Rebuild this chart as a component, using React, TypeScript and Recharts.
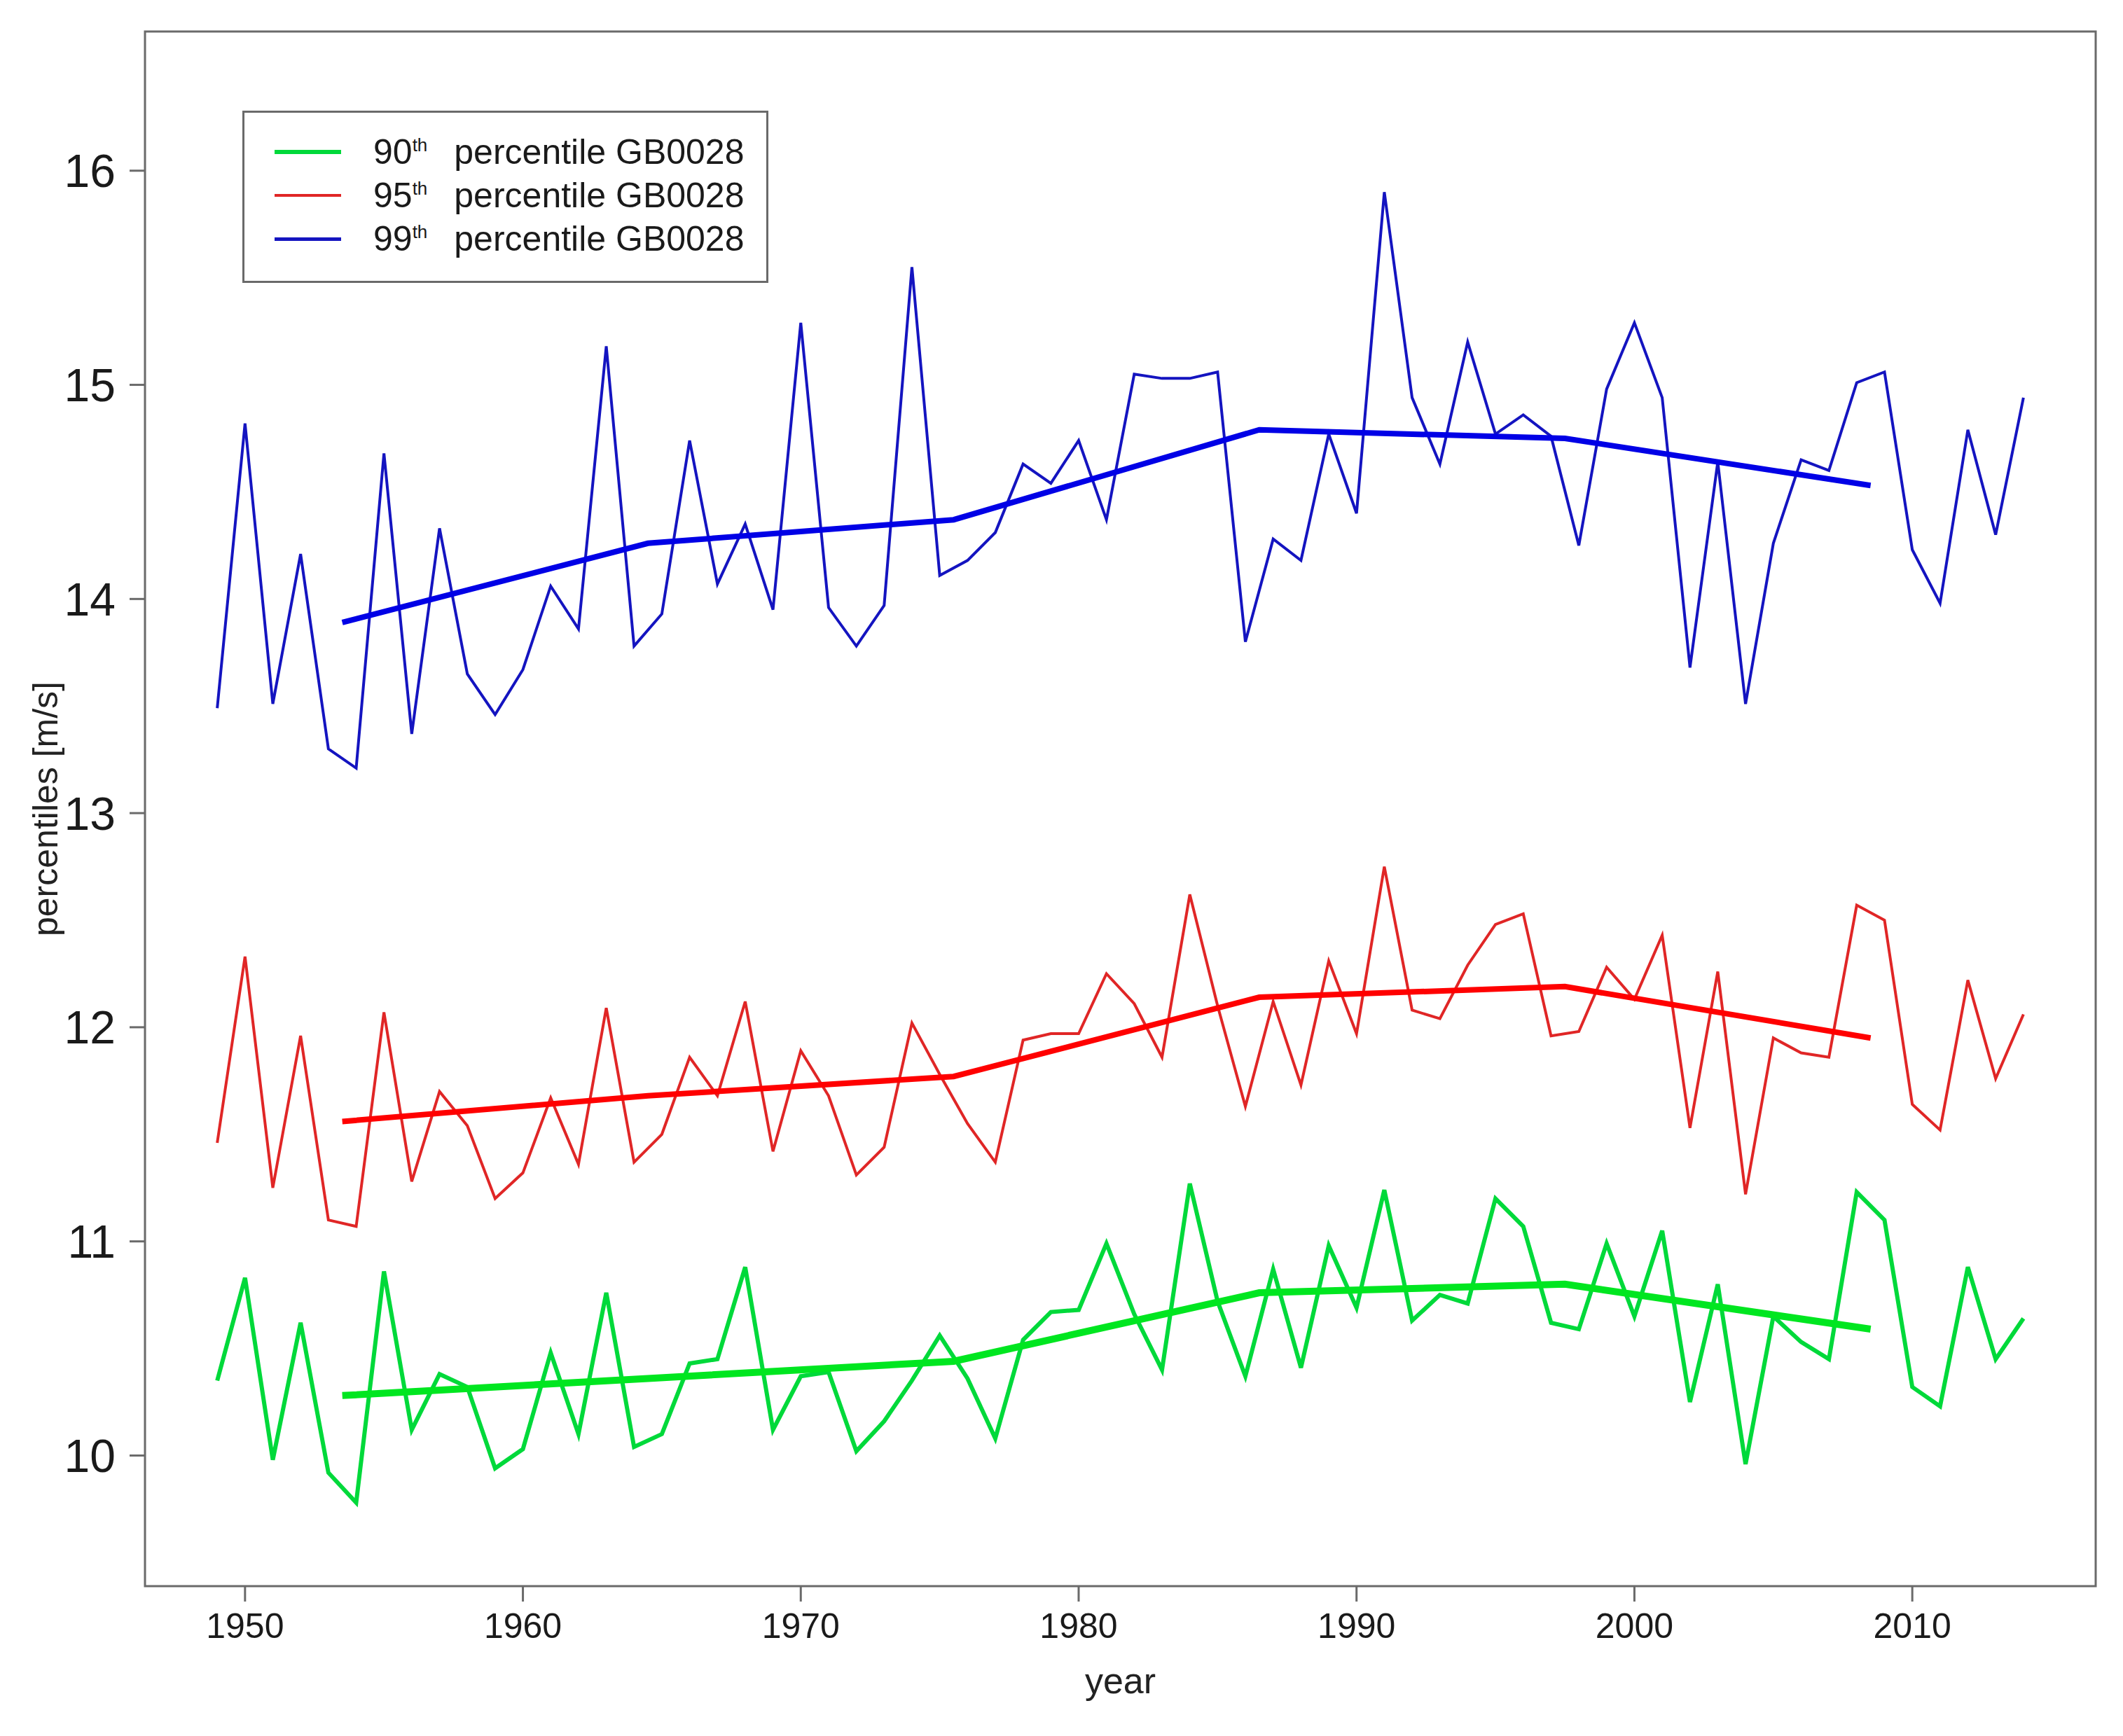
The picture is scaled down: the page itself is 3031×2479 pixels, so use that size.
import React from 'react'
import { LineChart, Line, XAxis, YAxis, ReferenceArea, Legend } from 'recharts'

const FONT = '"Liberation Sans", Arial, Helvetica, sans-serif'

const years = [
  1949, 1950, 1951, 1952, 1953, 1954, 1955, 1956, 1957, 1958, 1959,
  1960, 1961, 1962, 1963, 1964, 1965, 1966, 1967, 1968, 1969,
  1970, 1971, 1972, 1973, 1974, 1975, 1976, 1977, 1978, 1979,
  1980, 1981, 1982, 1983, 1984, 1985, 1986, 1987, 1988, 1989,
  1990, 1991, 1992, 1993, 1994, 1995, 1996, 1997, 1998, 1999,
  2000, 2001, 2002, 2003, 2004, 2005, 2006, 2007, 2008, 2009,
  2010, 2011, 2012, 2013, 2014,
]

// 90th percentile GB0028
const p90 = [
  10.35, 10.83, 9.98, 10.62, 9.92, 9.78, 10.86, 10.12, 10.38, 10.32, 9.94,
  10.03, 10.48, 10.10, 10.76, 10.04, 10.10, 10.43, 10.45, 10.88, 10.12,
  10.37, 10.39, 10.02, 10.16, 10.35, 10.56, 10.36, 10.08, 10.54, 10.67,
  10.68, 10.99, 10.66, 10.40, 11.27, 10.72, 10.37, 10.87, 10.41, 10.98,
  10.69, 11.24, 10.63, 10.75, 10.71, 11.20, 11.07, 10.62, 10.59, 10.99,
  10.65, 11.05, 10.25, 10.80, 9.96, 10.65, 10.53, 10.45, 11.23, 11.10,
  10.32, 10.23, 10.88, 10.45, 10.64,
]

// 95th percentile GB0028
const p95 = [
  11.46, 12.33, 11.25, 11.96, 11.10, 11.07, 12.07, 11.28, 11.70, 11.54, 11.20,
  11.32, 11.67, 11.36, 12.09, 11.37, 11.50, 11.86, 11.68, 12.12, 11.42,
  11.89, 11.68, 11.31, 11.44, 12.02, 11.78, 11.55, 11.37, 11.94, 11.97,
  11.97, 12.25, 12.11, 11.86, 12.62, 12.10, 11.63, 12.12, 11.73, 12.31,
  11.97, 12.75, 12.08, 12.04, 12.29, 12.48, 12.53, 11.96, 11.98, 12.28,
  12.13, 12.43, 11.53, 12.26, 11.22, 11.95, 11.88, 11.86, 12.57, 12.50,
  11.64, 11.52, 12.22, 11.76, 12.06,
]

// 99th percentile GB0028
const p99 = [
  13.49, 14.82, 13.51, 14.21, 13.30, 13.21, 14.68, 13.37, 14.33, 13.65, 13.46,
  13.67, 14.06, 13.86, 15.18, 13.78, 13.93, 14.74, 14.07, 14.35, 13.95,
  15.29, 13.96, 13.78, 13.97, 15.55, 14.11, 14.18, 14.31, 14.63, 14.54,
  14.74, 14.37, 15.05, 15.03, 15.03, 15.06, 13.80, 14.28, 14.18, 14.77,
  14.40, 15.90, 14.94, 14.63, 15.20, 14.77, 14.86, 14.76, 14.25, 14.98,
  15.29, 14.94, 13.68, 14.64, 13.51, 14.26, 14.65, 14.60, 15.01, 15.06,
  14.23, 13.98, 14.79, 14.30, 14.94,
]

// smoothed trend (11-year centres)
const trendYears = [1953.5, 1964.5, 1975.5, 1986.5, 1997.5, 2008.5]
const trend90 = [10.28, 10.36, 10.44, 10.76, 10.80, 10.59]
const trend95 = [11.56, 11.68, 11.77, 12.14, 12.19, 11.95]
const trend99 = [13.89, 14.26, 14.37, 14.79, 14.75, 14.53]

const xTicks = [1950, 1960, 1970, 1980, 1990, 2000, 2010]
const yTicks = [10, 11, 12, 13, 14, 15, 16]
const xDomain = [1946.4, 2016.6]
const yDomain = [9.39, 16.65]

const legendItems = [
  { pct: '90', color: '#00d93a', width: 6 },
  { pct: '95', color: '#e02626', width: 4 },
  { pct: '99', color: '#1414c0', width: 5 },
]

const rows = [
  ...years.map((year, i) => ({ year, p90: p90[i], p95: p95[i], p99: p99[i] })),
  ...trendYears.map((year, i) => ({ year, t90: trend90[i], t95: trend95[i], t99: trend99[i] })),
].sort((a, b) => a.year - b.year)

function renderLegend() {
  return (
    <div
      style={{
        boxSizing: 'border-box',
        width: 751,
        height: 246,
        border: '3px solid #6a6a6a',
        background: '#fff',
        position: 'relative',
        fontFamily: FONT,
      }}
    >
      {legendItems.map((it, i) => (
        <div key={it.pct} style={{ position: 'absolute', left: 0, top: 25 + i * 62, height: 62, width: '100%' }}>
          <div
            style={{
              position: 'absolute',
              left: 43,
              top: 31 - it.width / 2,
              width: 95,
              height: it.width,
              background: it.color,
            }}
          />
          <div
            style={{
              position: 'absolute',
              left: 184,
              top: 0,
              lineHeight: '62px',
              fontSize: 50,
              whiteSpace: 'nowrap',
              color: '#1a1a1a',
            }}
          >
            {it.pct}
            <span style={{ fontSize: 26, position: 'relative', top: -18 }}>th</span>
            <span style={{ marginLeft: 38 }}>percentile GB0028</span>
          </div>
        </div>
      ))}
    </div>
  )
}

export default function App() {
  return (
    <div style={{ fontFamily: FONT }}>
      <LineChart width={3015} height={2463} data={rows} margin={{ top: 37, right: 31, left: 0, bottom: 0 }}>
        <XAxis
          dataKey="year"
          type="number"
          domain={xDomain}
          ticks={xTicks}
          allowDataOverflow
          height={206}
          axisLine={false}
          tickSize={22}
          tickMargin={16}
          tickLine={{ stroke: '#6a6a6a', strokeWidth: 3 }}
          tick={{ fontSize: 50, fill: '#1a1a1a', fontFamily: FONT }}
          label={{ value: 'year', position: 'insideBottom', offset: 53, fontSize: 52, fill: '#222', fontFamily: FONT }}
        />
        <YAxis
          type="number"
          domain={yDomain}
          ticks={yTicks}
          allowDataOverflow
          width={199}
          axisLine={false}
          tickSize={22}
          tickMargin={20}
          tickLine={{ stroke: '#6a6a6a', strokeWidth: 3 }}
          tick={{ fontSize: 66, fill: '#1a1a1a', fontFamily: FONT }}
          label={{
            value: 'percentiles [m/s]',
            angle: -90,
            position: 'insideLeft',
            offset: 56,
            fontSize: 50,
            fill: '#222',
            fontFamily: FONT,
            style: { textAnchor: 'middle' },
          }}
        />
        <ReferenceArea
          x1={xDomain[0]}
          x2={xDomain[1]}
          y1={yDomain[0]}
          y2={yDomain[1]}
          fill="none"
          fillOpacity={0}
          stroke="#6a6a6a"
          strokeWidth={3}
        />
        <Legend
          layout="horizontal"
          verticalAlign="middle"
          align="center"
          content={renderLegend}
          wrapperStyle={{ left: 338, top: 150, width: 751, height: 246 }}
        />
        <Line dataKey="p90" type="linear" stroke="#00d93a" strokeWidth={6} dot={false} activeDot={false} connectNulls isAnimationActive={false} legendType="none" />
        <Line dataKey="t90" type="linear" stroke="#00e620" strokeWidth={10} dot={false} activeDot={false} connectNulls isAnimationActive={false} legendType="none" />
        <Line dataKey="p95" type="linear" stroke="#e02626" strokeWidth={4} dot={false} activeDot={false} connectNulls isAnimationActive={false} legendType="none" />
        <Line dataKey="t95" type="linear" stroke="#ff0000" strokeWidth={8} dot={false} activeDot={false} connectNulls isAnimationActive={false} legendType="none" />
        <Line dataKey="p99" type="linear" stroke="#1414c0" strokeWidth={4} dot={false} activeDot={false} connectNulls isAnimationActive={false} legendType="none" />
        <Line dataKey="t99" type="linear" stroke="#0000e6" strokeWidth={8} dot={false} activeDot={false} connectNulls isAnimationActive={false} legendType="none" />
      </LineChart>
    </div>
  )
}
